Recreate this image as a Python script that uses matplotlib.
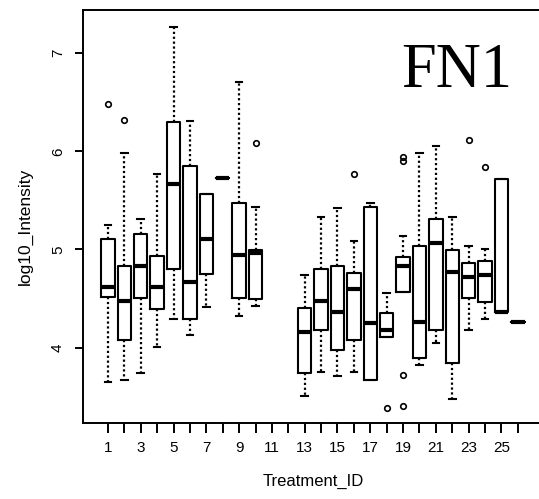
import numpy as np
import matplotlib
matplotlib.use('Agg')
import matplotlib.pyplot as plt

# data (log10 intensity per treatment)
treatments = [1, 2, 3, 4, 5, 6, 7, 8, 9, 10, 13, 14, 15, 16, 17, 18, 19, 20, 21, 22, 23, 24, 25, 26]
q1 = [4.52, 4.08, 4.51, 4.39, 4.80, 4.29, 4.75, 5.73, 4.51, 4.49, 3.74, 4.18, 3.97, 4.08, 3.67, 4.11, 4.57, 3.89, 4.18, 3.84, 4.51, 4.46, 4.36, 4.26]
med = [4.62, 4.47, 4.83, 4.62, 5.67, 4.67, 5.11, 5.73, 4.94, 4.96, 4.16, 4.47, 4.36, 4.60, 4.25, 4.18, 4.83, 4.26, 5.07, 4.77, 4.72, 4.74, 4.36, 4.26]
q3 = [5.11, 4.83, 5.16, 4.93, 6.30, 5.85, 5.57, 5.73, 5.47, 4.99, 4.40, 4.80, 4.83, 4.76, 5.43, 4.35, 4.92, 5.04, 5.31, 4.99, 4.86, 4.88, 5.72, 4.26]
whislo = [3.65, 3.67, 3.74, 4.01, 4.29, 4.13, 4.41, 5.73, 4.32, 4.42, 3.51, 3.75, 3.71, 3.75, 3.67, 4.11, 4.57, 3.82, 4.05, 3.48, 4.18, 4.29, 4.36, 4.26]
whishi = [5.25, 5.98, 5.31, 5.77, 7.27, 6.31, 5.57, 5.73, 6.71, 5.43, 4.74, 5.33, 5.42, 5.09, 5.47, 4.56, 5.14, 5.98, 6.05, 5.33, 5.04, 5.00, 5.72, 4.26]
outliers = [[6.48], [6.32], [], [], [], [], [], [], [], [6.09], [], [], [], [5.77], [], [3.38],
            [3.72, 3.40, 5.90, 5.94], [], [], [], [6.12], [5.84], [], []]

all_ticks = list(range(1, 27))
shown_labels = [str(t) if t % 2 == 1 else '' for t in all_ticks]

plt.rcParams['font.family'] = ['Liberation Sans', 'DejaVu Sans']

fig = plt.figure(figsize=(5.39, 4.99), dpi=100)
ax = fig.add_axes([0.154, 0.1533, 0.853, 0.8257])

stats = []
for i in range(len(treatments)):
    stats.append(dict(med=med[i], q1=q1[i], q3=q3[i], whislo=whislo[i],
                      whishi=whishi[i], fliers=outliers[i]))

ax.bxp(stats, positions=treatments, widths=0.82, capwidths=0.4,
       boxprops=dict(color='black', linewidth=1.5),
       medianprops=dict(color='black', linewidth=3),
       whiskerprops=dict(color='black', linewidth=1.6, linestyle=(0, (1, 1.2))),
       capprops=dict(color='black', linewidth=1.5),
       flierprops=dict(marker='o', markerfacecolor='none', markeredgecolor='black',
                       markersize=4, markeredgewidth=1.2),
       manage_ticks=False)

ax.set_xlim(-0.52, 27.52)
ax.set_ylim(3.236, 7.436)

ax.set_xticks(all_ticks)
ax.set_xticklabels(shown_labels, fontsize=11)
ax.set_yticks([4, 5, 6, 7])
ax.set_yticklabels(['4', '5', '6', '7'], fontsize=11, rotation=90, va='center')
ax.tick_params(axis='x', length=7, width=1.4, pad=6)
ax.tick_params(axis='y', length=6, width=1.4, pad=7)

for s in ax.spines.values():
    s.set_linewidth(1.4)

ax.set_xlabel('Treatment_ID', fontsize=12)
ax.xaxis.set_label_coords(0.5, -0.125)
ax.set_ylabel('log10_Intensity', fontsize=12.5)
ax.yaxis.set_label_coords(-0.11, 0.475)

ax.text(0.813, 0.851, 'FN1', transform=ax.transAxes, fontsize=45,
        family='Liberation Serif', va='center', ha='center')

plt.savefig('out.png', dpi=100)
